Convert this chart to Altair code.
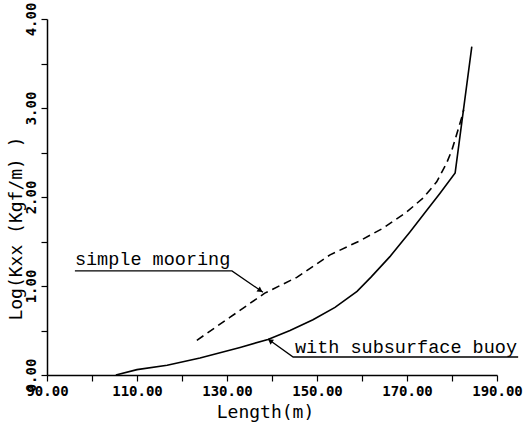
import altair as alt
import pandas as pd

# "with subsurface buoy" (solid)
buoy_len = [105.3, 110.0, 116.7, 124.0, 132.9, 139.1, 144.0, 149.1, 154.0, 158.9, 162.0, 166.2, 170.7, 174.4, 177.3, 180.7, 184.4]
buoy_log = [0.00, 0.06, 0.11, 0.19, 0.31, 0.40, 0.50, 0.62, 0.76, 0.94, 1.10, 1.33, 1.61, 1.85, 2.04, 2.27, 3.69]

# "simple mooring" (dashed)
moor_len = [123.3, 130.7, 138.4, 145.6, 152.9, 159.6, 164.7, 169.9, 173.6, 176.6, 178.8, 180.0, 182.2, 182.6]
moor_log = [0.39, 0.65, 0.92, 1.10, 1.35, 1.51, 1.65, 1.83, 1.99, 2.17, 2.38, 2.53, 2.90, 2.98]

x_ticks = [90, 100, 110, 120, 130, 140, 150, 160, 170, 180, 190]
y_ticks = [0, 0.5, 1, 1.5, 2, 2.5, 3, 3.5, 4]

label_texts = ["simple mooring", "with subsurface buoy"]
label_len = [96.2, 145.1]
label_log = [1.236, 0.247]

moor_leader_len = [96.2, 131.1, 138.0]
moor_leader_log = [1.17, 1.17, 0.93]
buoy_leader_len = [194.7, 144.7, 139.1]
buoy_leader_log = [0.202, 0.202, 0.404]

moor_arrow_len = [137.4]
moor_arrow_log = [0.95]
buoy_arrow_len = [139.6]
buoy_arrow_log = [0.385]

FONT_MONO = "DejaVu Sans Mono"

xscale = alt.Scale(domain=[90, 190], nice=False, zero=False)
yscale = alt.Scale(domain=[0, 4], nice=False, zero=False)

xaxis = alt.Axis(
    values=x_ticks,
    labelExpr="datum.value % 20 == 10 ? format(datum.value, '.2f') : ''",
    labelOverlap=False,
    labelFont=FONT_MONO, labelFontWeight="bold", labelFontSize=14, labelColor="black",
    labelPadding=3, labelFlush=False,
    tickSize=6, tickColor="black", tickWidth=1.2,
    domainColor="black", domainWidth=1.5,
    grid=False,
    title="Length(m)", titleFont=FONT_MONO, titleFontSize=18, titleFontWeight="normal",
    titleColor="black", titleX=218, titleY=37, titleAlign="center", titleBaseline="middle",
)
yaxis = alt.Axis(
    values=y_ticks,
    labelExpr="datum.value % 1 == 0 ? format(datum.value, '.2f') : ''",
    labelOverlap=False,
    labelAngle=270, labelAlign="center", labelBaseline="bottom",
    labelFont=FONT_MONO, labelFontWeight="bold", labelFontSize=14, labelColor="black",
    labelPadding=3, labelFlush=False,
    tickSize=6, tickColor="black", tickWidth=1.2,
    domainColor="black", domainWidth=1.5,
    grid=False,
    title="Log(Kxx (Kgf/m) )", titleFont=FONT_MONO, titleFontSize=18, titleFontWeight="normal",
    titleColor="black", titleAngle=270, titleX=-31, titleY=209,
    titleAlign="center", titleBaseline="middle",
)

def X():
    return alt.X("L:Q", scale=xscale, axis=xaxis)

def Y():
    return alt.Y("V:Q", scale=yscale, axis=yaxis)

buoy_df = pd.DataFrame({"L": buoy_len, "V": buoy_log, "i": range(len(buoy_len))})
moor_df = pd.DataFrame({"L": moor_len, "V": moor_log, "i": range(len(moor_len))})
lab_df = pd.DataFrame({"L": label_len, "V": label_log, "t": label_texts})
ml_df = pd.DataFrame({"L": moor_leader_len, "V": moor_leader_log, "i": range(3)})
bl_df = pd.DataFrame({"L": buoy_leader_len, "V": buoy_leader_log, "i": range(3)})
ma_df = pd.DataFrame({"L": moor_arrow_len, "V": moor_arrow_log})
ba_df = pd.DataFrame({"L": buoy_arrow_len, "V": buoy_arrow_log})

buoy = alt.Chart(buoy_df).mark_line(color="black", strokeWidth=1.6).encode(
    x=X(), y=Y(), order="i:Q")
moor = alt.Chart(moor_df).mark_line(color="black", strokeWidth=1.6, strokeDash=[8, 5]).encode(
    x=X(), y=Y(), order="i:Q")
labels = alt.Chart(lab_df).mark_text(
    align="left", baseline="alphabetic", font="Liberation Mono", fontSize=18.5, color="black"
).encode(x=X(), y=Y(), text="t:N")
ml = alt.Chart(ml_df).mark_line(color="black", strokeWidth=1.3).encode(x=X(), y=Y(), order="i:Q")
bl = alt.Chart(bl_df).mark_line(color="black", strokeWidth=1.3).encode(x=X(), y=Y(), order="i:Q")
ma = alt.Chart(ma_df).mark_point(shape="triangle-right", angle=34, size=35, filled=True,
                                 color="black", opacity=1).encode(x=X(), y=Y())
ba = alt.Chart(ba_df).mark_point(shape="triangle-left", angle=36, size=35, filled=True,
                                 color="black", opacity=1).encode(x=X(), y=Y())

chart = alt.layer(buoy, moor, ml, bl, ma, ba, labels).properties(
    width=450, height=356,
    autosize=alt.AutoSizeParams(type="none"),
    padding={"left": 47, "top": 19, "right": 31, "bottom": 52},
    background="white",
).configure_view(stroke=None)

chart.save("out.html", embed_options={"renderer": "svg", "actions": False})
